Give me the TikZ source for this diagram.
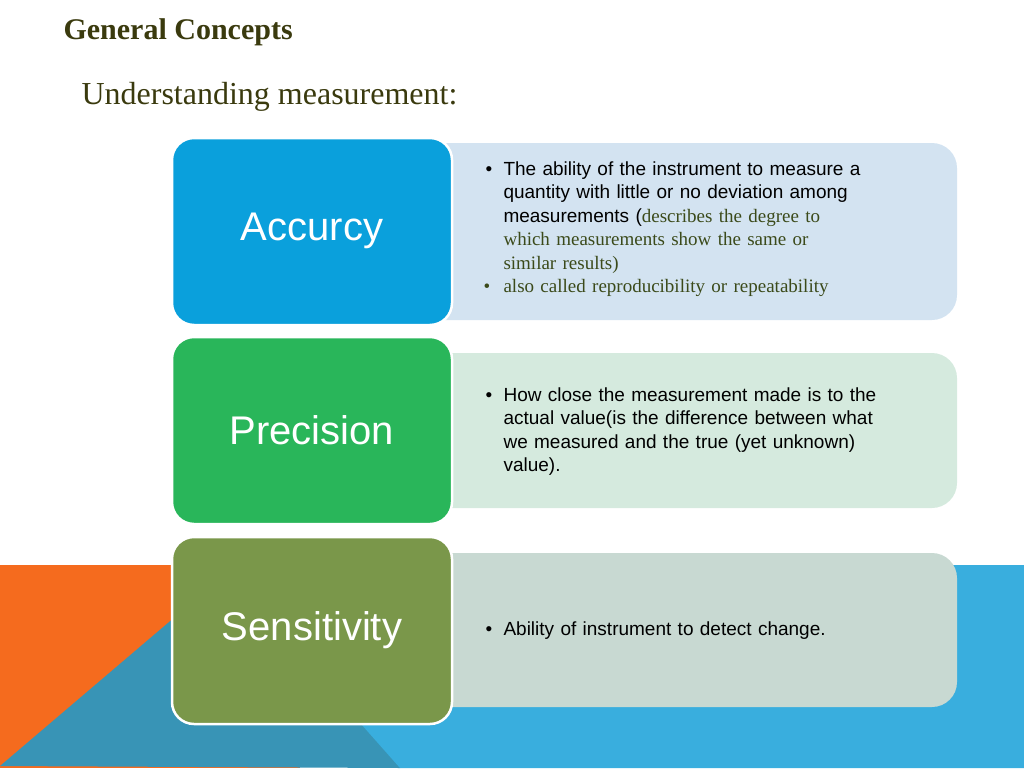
\documentclass[tikz,border=0pt]{standalone}
\usepackage{fontspec}
\setmainfont{Liberation Serif}
\newfontfamily\ar{Liberation Sans}
\definecolor{tcol}{HTML}{3A3A0E}
\definecolor{scol}{HTML}{3B4A1A}
\definecolor{cblue}{HTML}{0AA0DC}
\definecolor{cgreen}{HTML}{29B65A}
\definecolor{colive}{HTML}{7A974A}
\definecolor{lblue}{HTML}{D3E3F1}
\definecolor{lgreen}{HTML}{D5EADE}
\definecolor{lgrey}{HTML}{C8D9D2}
\definecolor{orng}{HTML}{F56B1E}
\definecolor{dblue}{HTML}{3894B6}
\definecolor{bblue}{HTML}{39AEDE}
\begin{document}
\begin{tikzpicture}[x=1pt,y=-1pt,
  lbox/.style={draw=white,line width=2.5pt,rounded corners=22pt},
  lab/.style={text=white,font=\ar\fontsize{40}{44}\selectfont},
  body/.style={anchor=north west,text width=430pt,align=left,font=\ar\fontsize{19}{23.5}\selectfont},
  ser/.style={}]
\useasboundingbox (0,0) rectangle (1024,768);
\fill[orng] (0,565) rectangle (300,768);
\fill[dblue] (0,766) -- (236,565) -- (420,565) -- (400,768) -- cycle;
\fill[bblue] (300,655) -- (300,565) -- (1024,565) -- (1024,768) -- (400,768) -- cycle;
\node[anchor=west,text=tcol,font=\bfseries\fontsize{30}{34}\selectfont] (t) at (60,32) {General Concepts};
\node[anchor=west,text=tcol,font=\fontsize{32}{36}\selectfont] (st) at (78,97) {Understanding measurement:};
% right boxes
\fill[lblue,rounded corners=25pt] (420,143) -- (957,143) -- (957,320) -- (420,320) -- cycle;
\fill[lgreen,rounded corners=25pt] (420,353) -- (957,353) -- (957,508) -- (420,508) -- cycle;
\fill[lgrey,rounded corners=25pt] (420,553) -- (957,553) -- (957,707) -- (420,707) -- cycle;
% left boxes
\filldraw[lbox,fill=cblue] (172,138) rectangle (452,325);
\filldraw[lbox,fill=cgreen] (172,337) rectangle (452,524);
\filldraw[lbox,fill=colive] (172,537) rectangle (452,724);
\node[lab] (a) at (312,231) {Accurcy};
\node[lab] (p) at (312,430) {Precision};
\node[lab] (s) at (312,630) {Sensitivity};
\node[body] (ta) at (475,158) {\makebox[25pt][l]{\hspace{7pt}•}\hangindent=25pt\hspace{-25pt}\hspace{25pt}The ability of the instrument to measure a\\
\hspace*{25pt}quantity with little or no deviation among\\
\hspace*{25pt}measurements ({\rmfamily\color{scol}describes the degree to}\\
\hspace*{25pt}{\rmfamily\color{scol}which measurements show the same or}\\
\hspace*{25pt}{\rmfamily\color{scol}similar results)}\\
\makebox[25pt][l]{\hspace{5pt}{\rmfamily\color{scol}•}}{\rmfamily\color{scol}also called reproducibility or repeatability}};
\node[body] (tp) at (475,384) {\makebox[25pt][l]{\hspace{7pt}•}How close the measurement made is to the\\
\hspace*{25pt}actual value(is the difference between what\\
\hspace*{25pt}we measured and the true (yet unknown)\\
\hspace*{25pt}value).};
\node[body] (ts) at (475,618) {\makebox[25pt][l]{\hspace{7pt}•}Ability of instrument to detect change.};
\end{tikzpicture}
\end{document}
